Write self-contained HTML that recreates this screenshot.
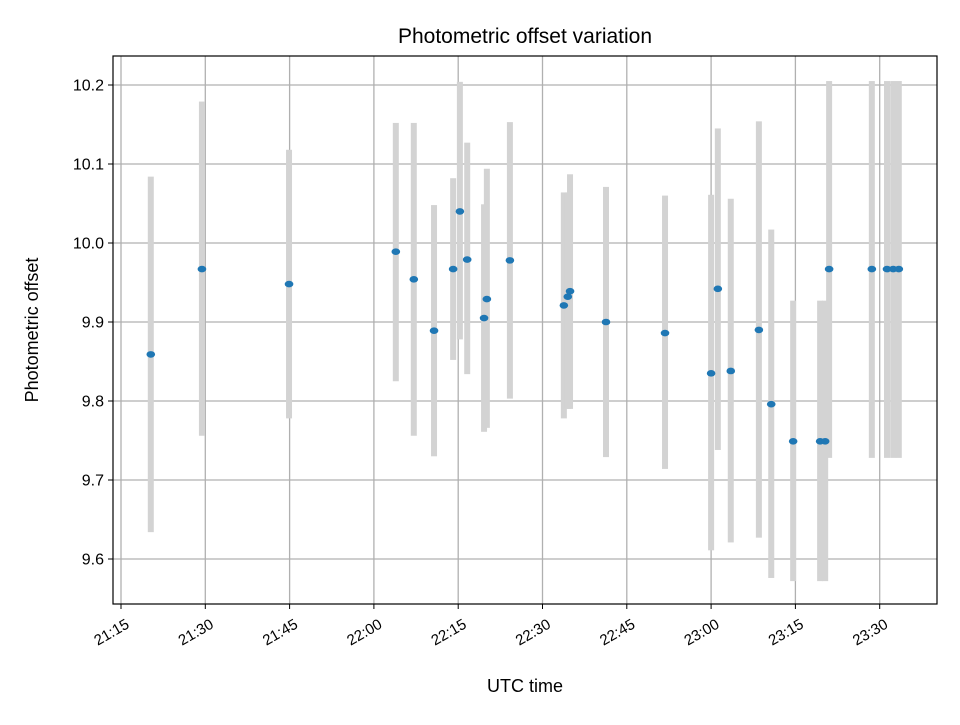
<!DOCTYPE html>
<html><head><meta charset="utf-8"><style>
body{margin:0;background:#fff}
svg text{font-family:"Liberation Sans","DejaVu Sans",sans-serif;fill:#000}
</style></head><body>
<svg id="chart" width="960" height="720" viewBox="0 0 960 720" xmlns="http://www.w3.org/2000/svg">
<rect width="960" height="720" fill="#fff"/>
<g id="grid"></g><g id="bars"></g><g id="dots"></g><g id="axes"></g>
<text x="525" y="43" font-size="21" text-anchor="middle">Photometric offset variation</text>
<text x="525" y="692" font-size="18" text-anchor="middle">UTC time</text>
<text transform="translate(38,330) rotate(-90)" font-size="18" text-anchor="middle">Photometric offset</text>
</svg>
<script>
// minutes after 21:15
const times=[5.3,14.4,29.9,48.9,52.1,55.7,59.1,60.3,61.6,64.6,65.1,69.2,78.8,79.5,79.9,86.3,96.8,105,106.2,108.5,113.5,115.7,119.6,124.4,125.3,126,133.6,136.3,137.4,138.4];
const values=[9.859,9.967,9.948,9.989,9.954,9.889,9.967,10.04,9.979,9.905,9.929,9.978,9.921,9.932,9.939,9.9,9.886,9.835,9.942,9.838,9.89,9.796,9.749,9.749,9.749,9.967,9.967,9.967,9.967,9.967];
const highs=[10.084,10.179,10.118,10.152,10.152,10.048,10.082,10.204,10.127,10.049,10.094,10.153,10.064,10.064,10.087,10.071,10.06,10.061,10.145,10.056,10.154,10.017,9.927,9.927,9.927,10.205,10.205,10.205,10.205,10.205];
const lows=[9.634,9.756,9.778,9.825,9.756,9.73,9.852,9.878,9.834,9.761,9.766,9.803,9.778,9.79,9.79,9.729,9.714,9.611,9.738,9.621,9.627,9.576,9.572,9.572,9.572,9.728,9.728,9.728,9.728,9.728];
const xTickLabels=["21:15","21:30","21:45","22:00","22:15","22:30","22:45","23:00","23:15","23:30"];
const yTickLabels=["9.6","9.7","9.8","9.9","10.0","10.1","10.2"];
const L=113,R=937,T=56,B=604;
const xs=m=>121+m*5.62;
const ys=v=>85+(10.2-v)*790;
const NS="http://www.w3.org/2000/svg";
function mk(tag,attrs,parent){const e=document.createElementNS(NS,tag);for(const k in attrs)e.setAttribute(k,attrs[k]);document.getElementById(parent).appendChild(e);return e;}
xTickLabels.forEach((lab,i)=>{
  const x=xs(i*15);
  const g=mk('line',{x1:x,x2:x,y1:T,y2:B,stroke:'#b0b0b0','stroke-width':1.3},'grid');
  
  
  const t=mk('line',{x1:x,x2:x,y1:B,y2:B+5,stroke:'#000','stroke-width':1},'axes');
  
  
  const tx=mk('text',{transform:`translate(${x+4},${B+14}) rotate(-30)`,'font-size':15,'text-anchor':'end',dy:'0.7em'},'axes');
  tx.textContent=lab;
  
  
});
yTickLabels.forEach(lab=>{
  const y=ys(parseFloat(lab));
  const g=mk('line',{x1:L,x2:R,y1:y,y2:y,stroke:'#b0b0b0','stroke-width':1.3},'grid');
  
  
  const t=mk('line',{x1:L-5,x2:L,y1:y,y2:y,stroke:'#000','stroke-width':1},'axes');
  
  
  const tx=mk('text',{x:L-9,y:y+5.5,'font-size':16,'text-anchor':'end'},'axes');
  tx.textContent=lab;
  
  
});
const fr=mk('rect',{x:L,y:T,width:R-L,height:B-T,fill:'none',stroke:'#000','stroke-width':1.2},'axes');


times.forEach((m,i)=>{
  const x=xs(m);
  const b=mk('rect',{x:x-3,y:ys(highs[i]),width:6,height:ys(lows[i])-ys(highs[i]),fill:'#d3d3d3'},'bars');
  
  
});
times.forEach((m,i)=>{
  const d=mk('ellipse',{cx:xs(m),cy:ys(values[i]),rx:4.3,ry:3.3,fill:'#1f77b4'},'dots');
  
  
});
</script>
</body></html>
